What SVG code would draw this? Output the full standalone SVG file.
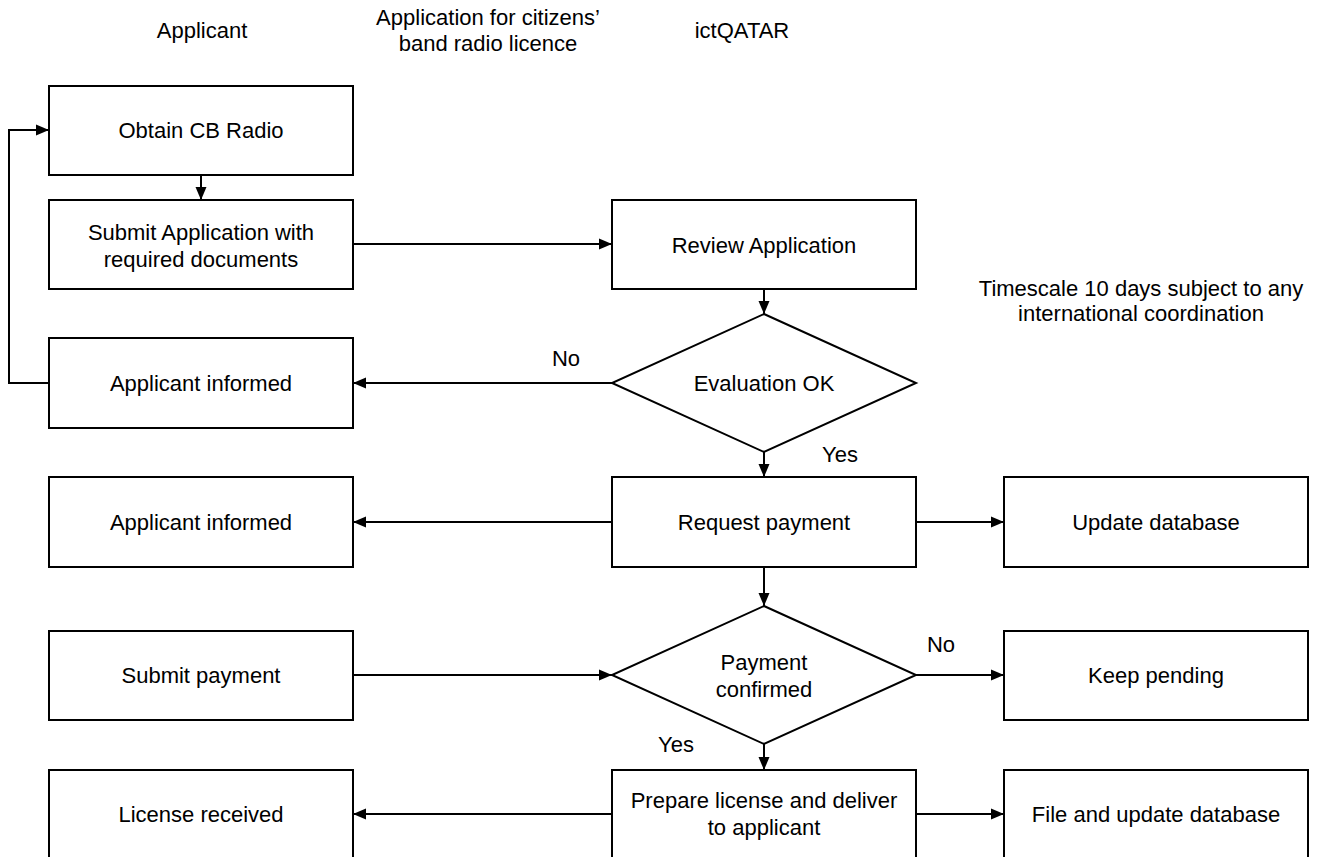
<svg xmlns="http://www.w3.org/2000/svg" width="1322" height="857" viewBox="0 0 1322 857">
  <style>
    text { font-family: "Liberation Sans", Arial, sans-serif; font-size: 22px; fill: #000; text-anchor: middle; }
    .box { fill: #fff; stroke: #000; stroke-width: 2; }
    .conn { fill: none; stroke: #000; stroke-width: 2; }
  </style>
  <defs>
    <marker id="arrow" markerUnits="userSpaceOnUse" markerWidth="14" markerHeight="12" refX="13" refY="6" orient="auto">
      <path d="M0,0.5 L13,6 L0,11.5 Z" fill="#000"/>
    </marker>
  </defs>
  <rect width="1322" height="857" fill="#fff"/>

  <!-- column headings and timescale note -->
  <g id="headings">
    <text x="202" y="38">Applicant</text>
    <text x="488" y="25">Application for citizens’</text>
    <text x="488" y="51">band radio licence</text>
    <text x="742" y="38">ictQATAR</text>
    <text x="1141" y="296">Timescale 10 days subject to any</text>
    <text x="1141" y="321">international coordination</text>
  </g>

  <!-- connectors -->
  <g id="connectors">
    <path class="conn" d="M201,175 L201,200" marker-end="url(#arrow)"/>
    <path class="conn" d="M353,244 L612,244" marker-end="url(#arrow)"/>
    <path class="conn" d="M764,289 L764,314" marker-end="url(#arrow)"/>
    <path class="conn" d="M612,383 L353,383" marker-end="url(#arrow)"/>
    <path class="conn" d="M49,383 L9,383 L9,130 L49,130" marker-end="url(#arrow)"/>
    <path class="conn" d="M764,452 L764,477" marker-end="url(#arrow)"/>
    <path class="conn" d="M612,522 L353,522" marker-end="url(#arrow)"/>
    <path class="conn" d="M916,522 L1004,522" marker-end="url(#arrow)"/>
    <path class="conn" d="M764,567 L764,606" marker-end="url(#arrow)"/>
    <path class="conn" d="M353,675 L612,675" marker-end="url(#arrow)"/>
    <path class="conn" d="M916,675 L1004,675" marker-end="url(#arrow)"/>
    <path class="conn" d="M764,744 L764,770" marker-end="url(#arrow)"/>
    <path class="conn" d="M612,814 L353,814" marker-end="url(#arrow)"/>
    <path class="conn" d="M916,814 L1004,814" marker-end="url(#arrow)"/>
    <text x="566" y="366">No</text>
    <text x="840" y="462">Yes</text>
    <text x="941" y="652">No</text>
    <text x="676" y="752">Yes</text>
  </g>

  <!-- applicant column -->
  <g id="obtain-radio">
    <rect class="box" x="49" y="86" width="304" height="89"/>
    <text x="201" y="138">Obtain CB Radio</text>
  </g>
  <g id="submit-application">
    <rect class="box" x="49" y="200" width="304" height="89"/>
    <text x="201" y="240">Submit Application with</text>
    <text x="201" y="267">required documents</text>
  </g>
  <g id="applicant-informed-1">
    <rect class="box" x="49" y="338" width="304" height="90"/>
    <text x="201" y="391">Applicant informed</text>
  </g>
  <g id="applicant-informed-2">
    <rect class="box" x="49" y="477" width="304" height="90"/>
    <text x="201" y="530">Applicant informed</text>
  </g>
  <g id="submit-payment">
    <rect class="box" x="49" y="631" width="304" height="89"/>
    <text x="201" y="683">Submit payment</text>
  </g>
  <g id="license-received">
    <rect class="box" x="49" y="770" width="304" height="92"/>
    <text x="201" y="822">License received</text>
  </g>

  <!-- ictQATAR column -->
  <g id="review-application">
    <rect class="box" x="612" y="200" width="304" height="89"/>
    <text x="764" y="253">Review Application</text>
  </g>
  <g id="evaluation-ok">
    <polygon class="box" points="764,314 916,383 764,452 612,383"/>
    <text x="764" y="391">Evaluation OK</text>
  </g>
  <g id="request-payment">
    <rect class="box" x="612" y="477" width="304" height="90"/>
    <text x="764" y="530">Request payment</text>
  </g>
  <g id="payment-confirmed">
    <polygon class="box" points="764,606 916,675 764,744 612,675"/>
    <text x="764" y="670">Payment</text>
    <text x="764" y="697">confirmed</text>
  </g>
  <g id="prepare-license">
    <rect class="box" x="612" y="770" width="304" height="92"/>
    <text x="764" y="808">Prepare license and deliver</text>
    <text x="764" y="835">to applicant</text>
  </g>

  <!-- right column -->
  <g id="update-database">
    <rect class="box" x="1004" y="477" width="304" height="90"/>
    <text x="1156" y="530">Update database</text>
  </g>
  <g id="keep-pending">
    <rect class="box" x="1004" y="631" width="304" height="89"/>
    <text x="1156" y="683">Keep pending</text>
  </g>
  <g id="file-update-database">
    <rect class="box" x="1004" y="770" width="304" height="92"/>
    <text x="1156" y="822">File and update database</text>
  </g>
</svg>
